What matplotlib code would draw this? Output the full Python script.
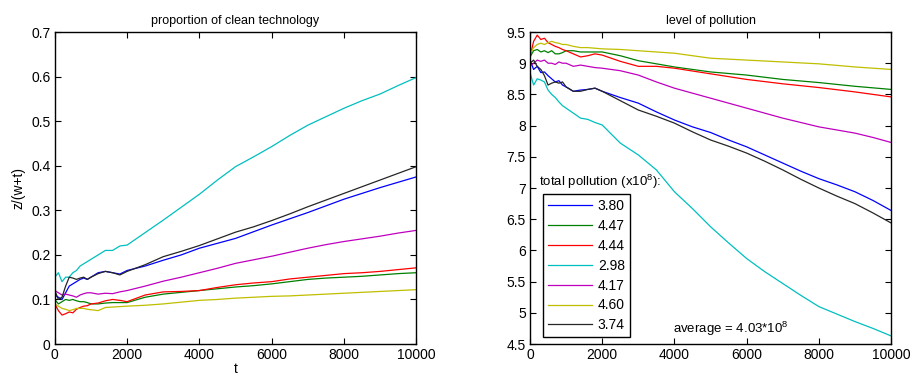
import matplotlib
matplotlib.use('Agg')
import matplotlib.pyplot as plt
from matplotlib.ticker import FuncFormatter

plt.rcParams['font.family'] = ['Liberation Sans', 'DejaVu Sans']
plt.rcParams['mathtext.default'] = 'regular'

# time samples shared by all series
t = [0, 100, 200, 300, 400, 500, 600, 700, 800, 900, 1000, 1200, 1400, 1600, 1800, 2000,
     2500, 3000, 3500, 4000, 4500, 5000, 5500, 6000, 6500, 7000, 7500, 8000, 8500, 9000, 9500, 10000]

labels = ['3.80', '4.47', '4.44', '2.98', '4.17', '4.60', '3.74']
colors = ['#0000ff', '#008000', '#ff0000', '#00bfbf', '#bf00bf', '#bfbf00', '#262626']

# proportion of clean technology, z/(w+t)
prop_blue = [0.11, 0.105, 0.10, 0.115, 0.13, 0.135, 0.14, 0.145, 0.148, 0.145, 0.15, 0.16, 0.163, 0.16, 0.157, 0.165,
             0.175, 0.188, 0.2, 0.215, 0.226, 0.237, 0.252, 0.267, 0.281, 0.295, 0.31, 0.325, 0.338, 0.351, 0.363, 0.375]
prop_green = [0.10, 0.09, 0.095, 0.10, 0.098, 0.10, 0.097, 0.095, 0.095, 0.093, 0.09, 0.09, 0.092, 0.093, 0.093, 0.093,
              0.105, 0.112, 0.116, 0.12, 0.124, 0.128, 0.131, 0.135, 0.14, 0.145, 0.148, 0.15, 0.152, 0.155, 0.158, 0.16]
prop_red = [0.09, 0.075, 0.065, 0.068, 0.072, 0.07, 0.078, 0.082, 0.085, 0.086, 0.09, 0.092, 0.097, 0.10, 0.098, 0.095,
            0.11, 0.117, 0.118, 0.12, 0.127, 0.133, 0.137, 0.14, 0.146, 0.15, 0.154, 0.158, 0.16, 0.163, 0.167, 0.171]
prop_cyan = [0.15, 0.16, 0.14, 0.15, 0.15, 0.16, 0.165, 0.175, 0.18, 0.185, 0.19, 0.20, 0.21, 0.21, 0.22, 0.222,
             0.25, 0.278, 0.307, 0.336, 0.368, 0.398, 0.42, 0.443, 0.468, 0.491, 0.51, 0.529, 0.546, 0.561, 0.58, 0.598]
prop_magenta = [0.12, 0.115, 0.11, 0.112, 0.11, 0.108, 0.105, 0.11, 0.113, 0.115, 0.115, 0.112, 0.114, 0.113, 0.117, 0.12,
                0.13, 0.141, 0.15, 0.16, 0.17, 0.181, 0.189, 0.197, 0.206, 0.215, 0.223, 0.23, 0.236, 0.242, 0.249, 0.255]
prop_yellow = [0.09, 0.085, 0.08, 0.078, 0.075, 0.077, 0.08, 0.08, 0.08, 0.078, 0.077, 0.075, 0.082, 0.083, 0.084, 0.085,
               0.087, 0.09, 0.094, 0.098, 0.1, 0.103, 0.105, 0.107, 0.108, 0.11, 0.112, 0.114, 0.116, 0.118, 0.12, 0.122]
prop_black = [0.12, 0.10, 0.105, 0.13, 0.15, 0.148, 0.145, 0.148, 0.15, 0.145, 0.15, 0.158, 0.163, 0.16, 0.155, 0.163,
              0.178, 0.196, 0.208, 0.221, 0.236, 0.251, 0.263, 0.277, 0.292, 0.308, 0.323, 0.338, 0.353, 0.368, 0.383, 0.398]

# level of pollution
pol_blue = [9.05, 8.9, 8.95, 8.85, 8.86, 8.8, 8.75, 8.7, 8.72, 8.65, 8.62, 8.55, 8.57, 8.58, 8.6, 8.55,
            8.45, 8.36, 8.22, 8.09, 7.98, 7.89, 7.77, 7.66, 7.53, 7.40, 7.27, 7.15, 7.05, 6.94, 6.8, 6.64]
pol_green = [9.1, 9.2, 9.22, 9.18, 9.2, 9.17, 9.2, 9.15, 9.15, 9.17, 9.2, 9.2, 9.18, 9.18, 9.18, 9.18,
             9.12, 9.04, 8.99, 8.94, 8.9, 8.86, 8.835, 8.81, 8.775, 8.74, 8.715, 8.69, 8.66, 8.63, 8.605, 8.58]
pol_red = [9.1, 9.35, 9.45, 9.38, 9.4, 9.33, 9.3, 9.27, 9.25, 9.22, 9.2, 9.15, 9.1, 9.12, 9.15, 9.13,
           9.03, 8.95, 8.95, 8.92, 8.875, 8.83, 8.785, 8.74, 8.705, 8.67, 8.64, 8.61, 8.575, 8.54, 8.5, 8.46]
pol_cyan = [8.85, 8.65, 8.75, 8.73, 8.7, 8.57, 8.5, 8.45, 8.38, 8.32, 8.28, 8.2, 8.12, 8.1, 8.05, 8.01,
            7.72, 7.53, 7.29, 6.94, 6.67, 6.38, 6.12, 5.87, 5.66, 5.47, 5.28, 5.10, 4.98, 4.86, 4.75, 4.63]
pol_magenta = [8.95, 9.0, 9.05, 9.03, 9.05, 9.0, 9.0, 8.98, 9.02, 9.0, 9.0, 8.95, 8.97, 8.95, 8.93, 8.92,
               8.88, 8.81, 8.7, 8.6, 8.52, 8.44, 8.36, 8.28, 8.2, 8.12, 8.05, 7.98, 7.93, 7.88, 7.81, 7.73]
pol_yellow = [9.15, 9.25, 9.3, 9.32, 9.3, 9.33, 9.35, 9.33, 9.32, 9.3, 9.3, 9.27, 9.25, 9.25, 9.24, 9.23,
              9.22, 9.2, 9.18, 9.16, 9.12, 9.08, 9.065, 9.05, 9.035, 9.02, 9.005, 8.99, 8.965, 8.94, 8.92, 8.90]
pol_black = [9.0, 9.05, 8.95, 8.9, 8.8, 8.65, 8.68, 8.7, 8.68, 8.7, 8.62, 8.55, 8.55, 8.58, 8.6, 8.55,
             8.4, 8.25, 8.15, 8.04, 7.9, 7.77, 7.67, 7.56, 7.43, 7.29, 7.14, 7.0, 6.87, 6.75, 6.6, 6.44]

prop = [prop_blue, prop_green, prop_red, prop_cyan, prop_magenta, prop_yellow, prop_black]
pol = [pol_blue, pol_green, pol_red, pol_cyan, pol_magenta, pol_yellow, pol_black]

fig = plt.figure(figsize=(9.13, 3.81), dpi=100)
ax1 = fig.add_axes([0.060, 0.097, 0.396, 0.819])
ax2 = fig.add_axes([0.5805, 0.097, 0.3955, 0.819])


def style(ax):
    ax.tick_params(direction='in', top=True, right=True, length=4, width=0.8, labelsize=10, pad=3)
    for s in ax.spines.values():
        s.set_linewidth(1.0)
    ax.set_xlim(0, 10000)
    ax.set_xticks([0, 2000, 4000, 6000, 8000, 10000])


for y, c, lab in zip(prop, colors, labels):
    ax1.plot(t, y, color=c, lw=0.9, label=lab)
style(ax1)
ax1.set_ylim(0, 0.7)
ax1.set_yticks([0, 0.1, 0.2, 0.3, 0.4, 0.5, 0.6, 0.7])
ax1.yaxis.set_major_formatter(FuncFormatter(lambda v, p: '%g' % round(v, 2)))
ax1.set_title('proportion of clean technology', fontsize=9, pad=6)
ax1.set_xlabel('t', fontsize=10, labelpad=0)
ax1.set_ylabel('z/(w+t)', fontsize=10, labelpad=4)

for y, c, lab in zip(pol, colors, labels):
    ax2.plot(t, y, color=c, lw=0.9, label=lab)
style(ax2)
ax2.set_ylim(4.5, 9.5)
ax2.set_yticks([4.5, 5, 5.5, 6, 6.5, 7, 7.5, 8, 8.5, 9, 9.5])
ax2.yaxis.set_major_formatter(FuncFormatter(lambda v, p: '%g' % v))
ax2.set_title('level of pollution', fontsize=9, pad=6)

leg = ax2.legend(loc='lower left', bbox_to_anchor=(0.036, 0.022), fontsize=10, handlelength=3.2,
                 handletextpad=0.4, labelspacing=0.42, borderaxespad=0, borderpad=0.35,
                 fancybox=False, framealpha=1, edgecolor='black')
leg.get_frame().set_linewidth(1.0)
ax2.text(0.025, 0.506, 'total pollution (x10$^{8}$):', transform=ax2.transAxes, fontsize=9.5, va='baseline')
ax2.text(0.396, 0.035, 'average = 4.03*10$^{8}$', transform=ax2.transAxes, fontsize=9.5, va='baseline')

fig.savefig('out.png', dpi=100)
